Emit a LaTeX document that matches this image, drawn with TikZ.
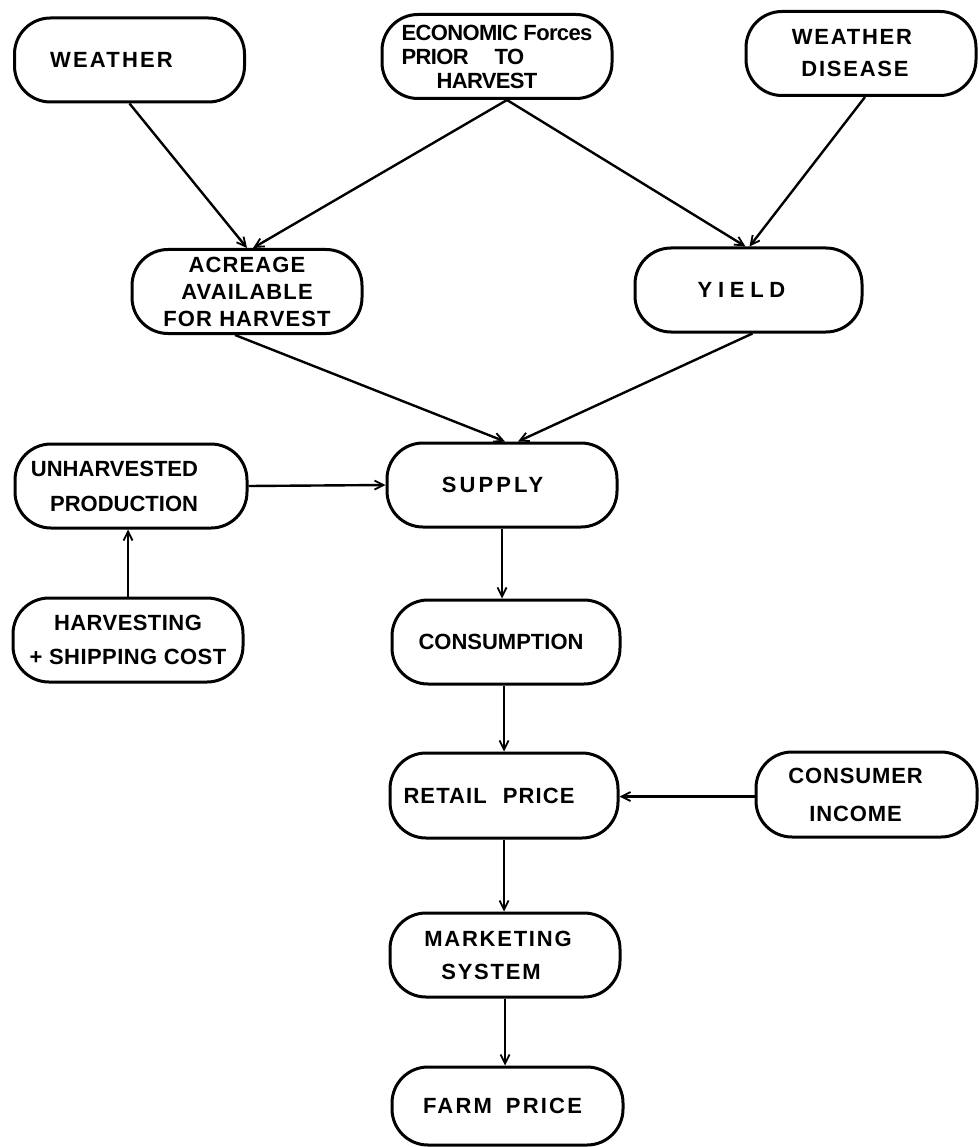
\documentclass[tikz,border=0pt]{standalone}
\usepackage{fontspec}
\setmainfont{Liberation Sans}
\usetikzlibrary{arrows.meta}
\newcommand\sh[1]{\rule{#1pt}{0pt}}
\begin{document}
\begin{tikzpicture}[x=1pt,y=-1pt,
  box/.style={draw, line width=3pt, rounded corners=36pt, minimum width=230pt,
    minimum height=84pt, inner sep=0pt, align=center},
  ft/.style 2 args={font={\fontsize{22}{#1}\selectfont\bfseries\addfontfeatures{LetterSpace=#2}}},
  arr/.style={line width=2.4pt, -{Straight Barb[length=9pt,width=9pt,line width=1.8pt]}}]
\useasboundingbox (0,0) rectangle (978,1147);

\node[box, ft={33}{10}] (weather) at (129.5,60) {WEATHER\sh{36}};
\node[box, ft={24}{-3}, align=left] (econ) at (497,56.5) {ECONOMIC Forces\\PRIOR\hspace{26pt}TO\\\hspace*{35pt}HARVEST};
\node[box, ft={32}{8}] (wdis) at (861,53.5) {WEATHER\sh{18}\\DISEASE\sh{12}};
\node[box, ft={27}{5}] (acre) at (247,291.5) {ACREAGE\\AVAILABLE\\FOR HARVEST};
\node[box, ft={33}{26}, minimum width=227pt] (yield) at (748.5,290) {YIELD\sh{14}};
\node[box, ft={35}{0}, align=right, minimum width=232pt] (unh) at (131,486) {UNHARVESTED\sh{33}\\PRODUCTION\sh{33}};
\node[box, ft={33}{14}] (supply) at (502,485) {SUPPLY\sh{19}};
\node[box, ft={34}{2}] (harv) at (128,640) {HARVESTING\\+ SHIPPING COST};
\node[box, ft={33}{0}, minimum width=228pt] (cons) at (506,642) {CONSUMPTION\sh{10}};
\node[box, ft={33}{5}, minimum width=228pt, minimum height=85pt] (retail) at (504,795.5) {RETAIL\hspace{16pt}PRICE\sh{30}};
\node[box, ft={38}{4}, minimum width=221pt, minimum height=85pt] (consinc) at (866.5,794.5) {CONSUMER\sh{22}\\INCOME\sh{22}};
\node[box, ft={33}{8}] (market) at (505,955) {MARKETING\sh{14}\\SYSTEM\sh{28}};
\node[box, ft={33}{10}, minimum width=231pt, minimum height=78pt] (farm) at (507.5,1106) {FARM\hspace{14pt}PRICE\sh{10}};

\draw[arr] (weather.south) -- (acre.north);
\draw[arr] ([xshift=10pt]econ.south) -- ([xshift=6pt]acre.north);
\draw[arr] ([xshift=10pt]econ.south) -- ([xshift=-3pt]yield.north);
\draw[arr] ([xshift=4pt]wdis.south) -- ([xshift=1pt]yield.north);
\draw[arr] ([xshift=-12pt]acre.south) -- ([xshift=3pt]supply.north);
\draw[arr] ([xshift=4pt]yield.south) -- ([xshift=16pt]supply.north);
\draw[arr] (unh.east) -- (supply.west);
\draw[arr] (harv.north) -- (harv.north |- unh.south);
\draw[arr] (supply.south) -- (supply.south |- cons.north);
\draw[arr] ([xshift=-2pt]cons.south) -- ([xshift=-2pt]cons.south |- retail.north);
\draw[arr] ([yshift=-2pt]consinc.west) -- ([yshift=-2pt]consinc.west -| retail.east);
\draw[arr] (retail.south) -- (retail.south |- market.north);
\draw[arr] (market.south) -- (market.south |- farm.north);
\end{tikzpicture}
\end{document}
